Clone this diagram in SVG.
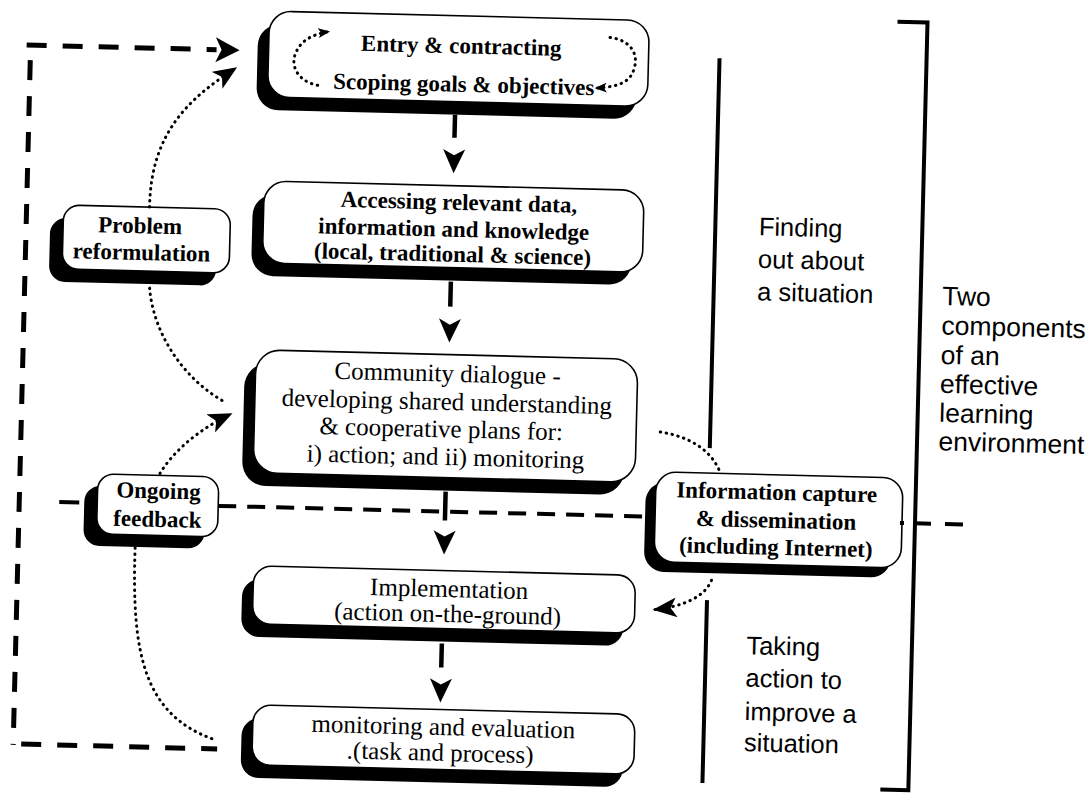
<svg xmlns="http://www.w3.org/2000/svg" width="1088" height="796" viewBox="0 0 1088 796">
<defs>
<style>
.sh{fill:#000}
.bx{fill:#fff;stroke:#000;stroke-width:1.6}
.bt{font-family:"Liberation Serif","Times New Roman",serif;font-weight:bold;font-size:23px;text-anchor:middle;fill:#000}
.rt{font-family:"Liberation Serif","Times New Roman",serif;font-size:25px;text-anchor:middle;fill:#000}
.st{font-family:"Liberation Sans",Arial,sans-serif;font-size:25.5px;fill:#000}
.st2{font-family:"Liberation Sans",Arial,sans-serif;font-size:26.5px;fill:#000}
.dot{fill:none;stroke:#000;stroke-width:3;stroke-dasharray:0.5 5.5;stroke-linecap:round}
.dash{fill:none;stroke:#000;stroke-width:5;stroke-dasharray:20 16}
.mdash{fill:none;stroke:#000;stroke-width:4;stroke-dasharray:18 11}
.ln{fill:none;stroke:#000;stroke-width:4}
.stem{stroke:#000;stroke-width:4.5}
</style>
<marker id="ah" viewBox="0 0 24 20" refX="24" refY="10" markerWidth="24" markerHeight="20" markerUnits="userSpaceOnUse" orient="auto"><path d="M0,0 L24,10 L0,20 L6,10 Z"/></marker>
<marker id="ahs" viewBox="0 0 12 10" refX="12" refY="5" markerWidth="12" markerHeight="10" markerUnits="userSpaceOnUse" orient="auto"><path d="M0,0 L12,5 L0,10 L3,5 Z"/></marker>
<path id="dn" d="M0,0 L-11,-24 L0,-18 L11,-24 Z"/>
</defs>
<rect width="1088" height="796" fill="#fff"/>
<g transform="rotate(1.43 544 398)">
<g id="dividers">
<path class="ln" d="M711,54 V444"/>
<path class="ln" d="M712,596 V779"/>
<path class="ln" d="M888,13 H918 V781 H890"/>
</g>
<g id="n-entry">
<rect class="sh" x="249" y="31" width="380" height="86" rx="22"/>
<rect class="bx" x="260" y="18" width="380" height="86" rx="22"/>
<text class="bt" x="452.5" y="55.5">Entry &amp; contracting</text>
<text class="bt" x="456" y="94">Scoping goals &amp; objectives</text>
</g>
<g id="n-access">
<rect class="sh" x="248" y="201" width="380" height="82" rx="22"/>
<rect class="bx" x="259" y="188" width="380" height="82" rx="22"/>
<text class="bt" x="454" y="212">Accessing relevant data,</text>
<text class="bt" x="449.5" y="239">information and knowledge</text>
<text class="bt" x="449" y="264">(local, traditional &amp; science)</text>
</g>
<g id="n-dialogue">
<rect class="sh" x="244" y="370" width="382" height="123" rx="24"/>
<rect class="bx" x="255" y="357" width="382" height="123" rx="24"/>
<text class="rt" x="447" y="384">Community dialogue -</text>
<text class="rt" x="447" y="412.4">developing shared understanding</text>
<text class="rt" x="442" y="439.7">&amp; cooperative plans for:</text>
<text class="rt" x="447" y="467.4">i) action; and ii) monitoring</text>
</g>
<g id="n-impl">
<rect class="sh" x="247" y="586" width="382" height="58" rx="18"/>
<rect class="bx" x="258" y="573" width="382" height="58" rx="18"/>
<text class="rt" x="454" y="599.4">Implementation</text>
<text class="rt" x="453" y="624.4">(action on-the-ground)</text>
</g>
<g id="n-monitor">
<rect class="sh" x="250" y="725" width="382" height="60" rx="18"/>
<rect class="bx" x="261" y="712" width="382" height="60" rx="18"/>
<text class="rt" x="451.7" y="737.5">monitoring and evaluation</text>
<text class="rt" x="449" y="763.3">.(task and process)</text>
</g>
<g id="n-problem">
<rect class="sh" x="46" y="230" width="167" height="64" rx="16"/>
<rect class="bx" x="59" y="217" width="167" height="64" rx="16"/>
<text class="bt" x="136" y="243.4">Problem</text>
<text class="bt" x="138" y="270">reformulation</text>
</g>
<g id="n-ongoing">
<rect class="sh" x="87" y="497" width="121" height="60" rx="16"/>
<rect class="bx" x="100" y="485" width="121" height="60" rx="16"/>
<text class="bt" x="161" y="508">Ongoing</text>
<text class="bt" x="160.5" y="536.4">feedback</text>
</g>
<g id="n-info">
<rect class="sh" x="648" y="479" width="247" height="90" rx="20"/>
<rect class="bx" x="658" y="469" width="247" height="90" rx="20"/>
<text class="bt" x="779" y="494">Information capture</text>
<text class="bt" x="779" y="522">&amp; dissemination</text>
<text class="bt" x="779.5" y="549">(including Internet)</text>
</g>
<g id="connectors">
<line class="stem" x1="448" y1="117" x2="448" y2="140"/>
<use href="#dn" x="448" y="175.5"/>
<line class="stem" x1="448" y1="284" x2="448" y2="309"/>
<use href="#dn" x="448" y="345"/>
<line class="stem" x1="448" y1="494" x2="448" y2="523"/>
<use href="#dn" x="448" y="557"/>
<line class="stem" x1="448" y1="646" x2="448" y2="670"/>
<use href="#dn" x="448" y="705"/>
<path class="dash" d="M18,58 H208"/>
<path d="M231,58 L207,45.5 L213,58 L207,70.5 Z"/>
<path class="dash" d="M22,73 V758"/>
<path class="dash" d="M30,757 H226"/>
<path class="ln" d="M62,514 H82"/>
<path class="mdash" d="M221,514 H648"/>
<path class="ln" d="M903,514 H907 M918,514 H934 M948,514 H966"/>
<path class="dot" d="M145,217 C144,140 185,105 229,75" marker-end="url(#ah)"/>
<path class="dot" d="M147,298 C152,345 185,390 227,411"/>
<path class="dot" d="M162,483 C172,465 195,440 233,421" marker-end="url(#ah)"/>
<path class="dot" d="M139,558 C138,660 150,725 224,748"/>
<path class="dot" d="M661,429 C690,433 712,445 722,468"/>
<path class="dot" d="M716,576 C710,592 690,603 658,607" marker-end="url(#ah)"/>
<path class="dot" d="M310,91 C290,88 282,72 287,60 C291,48 302,40 321,37" marker-end="url(#ahs)"/>
<path class="dot" d="M601,36 C622,38 630,52 626,66 C623,78 615,85 587,87" marker-end="url(#ahs)"/>
</g>
<g id="labels">
<text class="st" x="754.5" y="230">Finding</text>
<text class="st" x="754.5" y="262.5">out about</text>
<text class="st" x="754.5" y="295">a situation</text>
<text class="st" x="752.5" y="649">Taking</text>
<text class="st" x="752.5" y="681.5">action to</text>
<text class="st" x="752.5" y="715">improve a</text>
<text class="st" x="752.5" y="746">situation</text>
<text class="st2" x="939.5" y="295">Two</text>
<text class="st2" x="939.5" y="324.5">components</text>
<text class="st2" x="939.5" y="354">of an</text>
<text class="st2" x="939.5" y="383">effective</text>
<text class="st2" x="939.5" y="412">learning</text>
<text class="st2" x="939.5" y="440.5">environment</text>
</g>
</g>
</svg>
